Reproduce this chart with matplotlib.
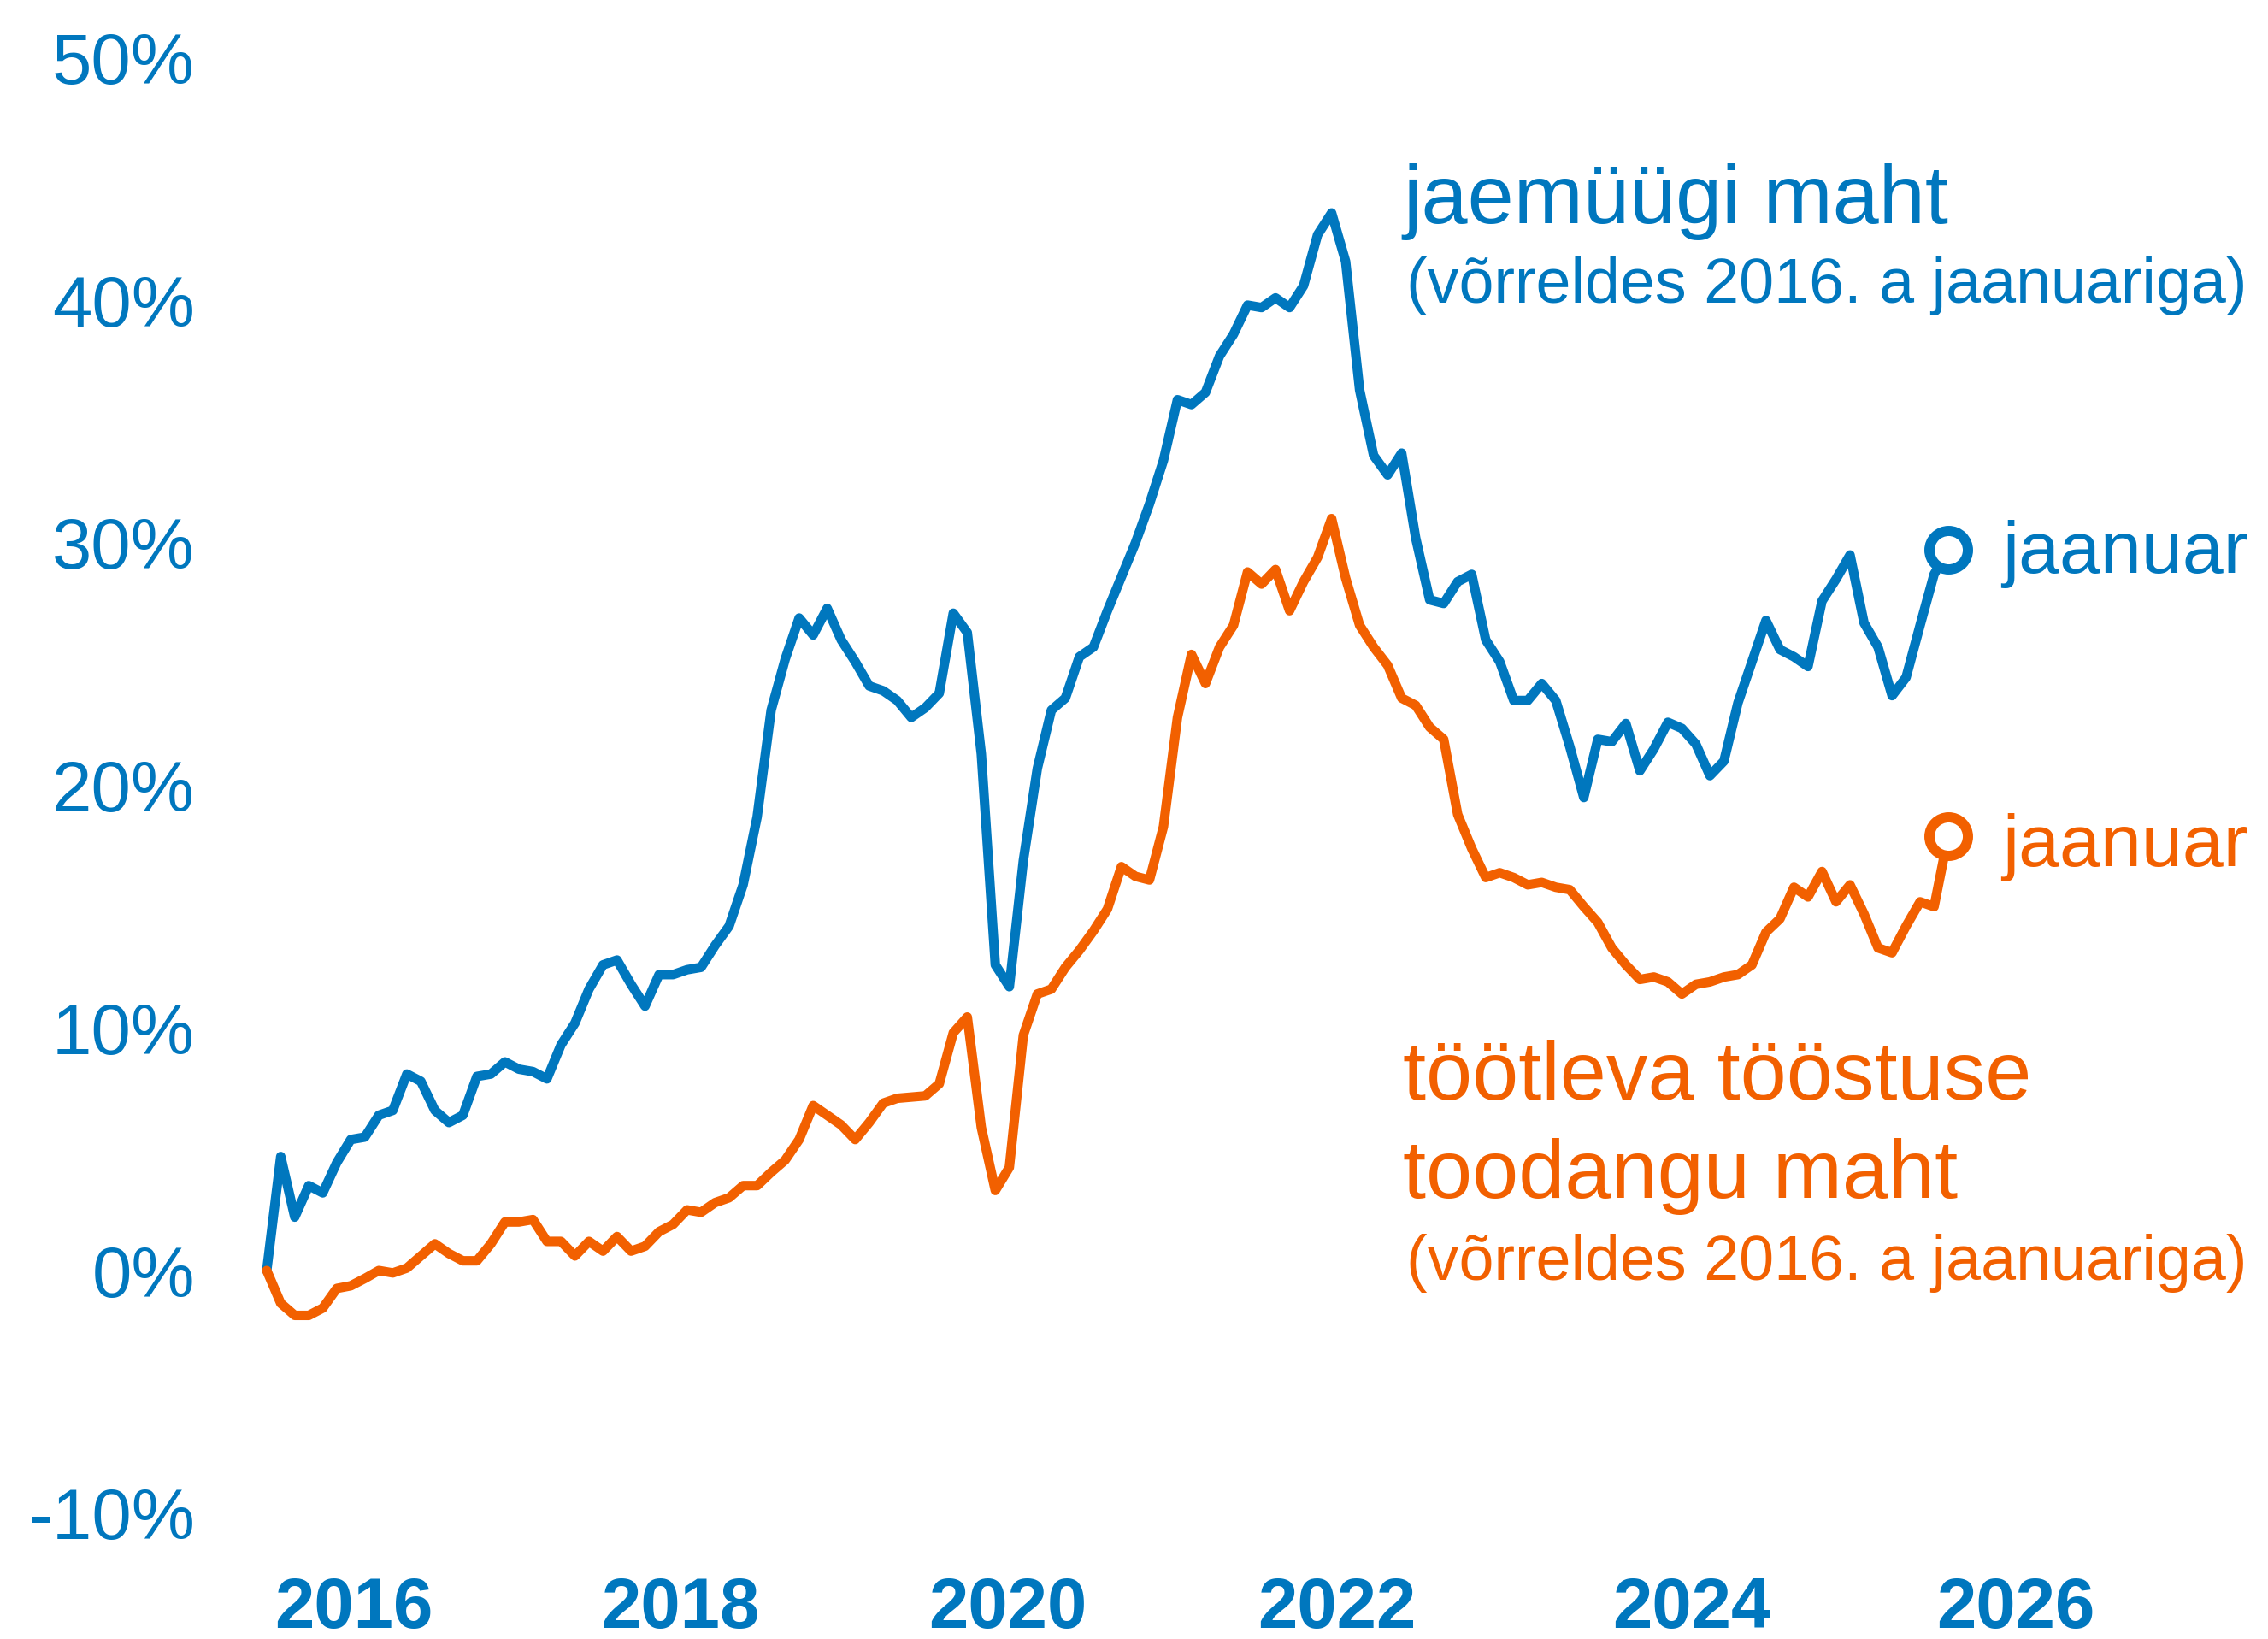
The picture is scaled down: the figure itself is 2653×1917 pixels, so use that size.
import matplotlib
matplotlib.use("Agg")
import matplotlib.pyplot as plt

plt.rcParams["font.family"] = ["Liberation Sans", "DejaVu Sans"]

BLUE = "#0077BE"
ORANGE = "#F26000"

# monthly index, Jan 2016 = 0 ... Jan 2026 = 120, % vs Jan 2016
retail = [
    0.0, 4.7, 2.2, 3.5, 3.2, 4.45, 5.4, 5.5, 6.4, 6.6, 8.1, 7.8,
    6.6, 6.1, 6.4, 8.0, 8.1, 8.6, 8.3, 8.2, 7.9, 9.3, 10.2, 11.6,
    12.6, 12.8, 11.8, 10.9, 12.2, 12.2, 12.4, 12.5, 13.4, 14.2, 15.9, 18.7,
    23.1, 25.2, 26.9, 26.2, 27.3, 26.0, 25.1, 24.1, 23.9, 23.5, 22.8, 23.2,
    23.8, 27.1, 26.3, 21.3, 12.6, 11.7, 16.9, 20.7, 23.1, 23.6, 25.3, 25.7,
    27.2, 28.6, 30.0, 31.6, 33.4, 35.9, 35.7, 36.2, 37.7, 38.6, 39.8, 39.7,
    40.1, 39.7, 40.6, 42.7, 43.6, 41.6, 36.3, 33.6, 32.8, 33.7, 30.2, 27.65,
    27.5, 28.4, 28.7, 26.0, 25.1, 23.5, 23.5, 24.2, 23.5, 21.6, 19.5, 21.9,
    21.8, 22.55, 20.6, 21.5, 22.6, 22.35, 21.7, 20.4, 21.0, 23.4, 25.1, 26.8,
    25.6, 25.3, 24.9, 27.6, 28.5, 29.5, 26.7, 25.7, 23.7, 24.45, 26.6, 28.7,
    29.7,
]
manufacturing = [
    0.0, -1.35, -1.85, -1.85, -1.55, -0.74, -0.63, -0.33, 0.0, -0.1, 0.1, 0.6,
    1.1, 0.7, 0.4, 0.4, 1.1, 2.0, 2.0, 2.1, 1.2, 1.2, 0.6, 1.2,
    0.8, 1.4, 0.8, 1.0, 1.6, 1.9, 2.5, 2.4, 2.8, 3.0, 3.5, 3.5,
    4.05, 4.55, 5.4, 6.8, 6.4, 6.0, 5.4, 6.1, 6.9, 7.1, 7.15, 7.2,
    7.7, 9.8, 10.45, 5.9, 3.3, 4.25, 9.7, 11.4, 11.6, 12.5, 13.2, 14.0,
    14.9, 16.65, 16.25, 16.1, 18.3, 22.8, 25.4, 24.2, 25.7, 26.6, 28.8, 28.3,
    28.9, 27.2, 28.4, 29.4, 31.0, 28.55, 26.6, 25.7, 24.95, 23.6, 23.3, 22.4,
    21.9, 18.8, 17.4, 16.2, 16.4, 16.2, 15.9, 16.0, 15.8, 15.7, 15.0, 14.35,
    13.3, 12.6, 12.0, 12.1, 11.9, 11.4, 11.8, 11.9, 12.1, 12.2, 12.6, 13.95,
    14.5, 15.8, 15.4, 16.45, 15.2, 15.9, 14.7, 13.3, 13.1, 14.2, 15.2, 15.0,
    17.9,
]
months = list(range(len(retail)))

year_labels = ["2016", "2018", "2020", "2022", "2024", "2026"]
year_pos = [6.2, 29.5, 52.9, 76.4, 101.7, 124.8]
y_ticks = [-10, 0, 10, 20, 30, 40, 50]

W, H = 2653, 1917
fig = plt.figure(figsize=(W / 100, H / 100), dpi=100)

# axes placed so that month 0 -> x=312px, 0% -> y=1486px
x0, dx = 312, 16.39
y0, dy = 1486, 28.37
xmin, xmax = -2, 130
left = (x0 + xmin * dx) / W
right = (x0 + xmax * dx) / W
bottom = 1 - (y0 + 10 * dy) / H
top = 1 - (y0 - 50 * dy) / H
ax = fig.add_axes([left, bottom, right - left, top - bottom])

ax.plot(months, retail, color=BLUE, lw=8, solid_joinstyle="round",
        solid_capstyle="round", zorder=3)
ax.plot(months, manufacturing, color=ORANGE, lw=8, solid_joinstyle="round",
        solid_capstyle="round", zorder=4)
ax.plot(months[-1], retail[-1], "o", ms=32.4, mfc="white", mec=BLUE, mew=8.6,
        zorder=5, clip_on=False)
ax.plot(months[-1], manufacturing[-1], "o", ms=32.4, mfc="white", mec=ORANGE,
        mew=8.6, zorder=5, clip_on=False)

ax.set_xlim(xmin, xmax)
ax.set_ylim(-10, 50)
for s in ax.spines.values():
    s.set_visible(False)

ax.set_yticks(y_ticks)
ax.set_yticklabels([f"{v}%" for v in y_ticks])
ax.tick_params(axis="y", length=0, pad=37, labelsize=60, labelcolor=BLUE)
ax.set_xticks(year_pos)
ax.set_xticklabels(year_labels, fontweight="bold")
ax.tick_params(axis="x", length=0, pad=53, labelsize=60, labelcolor=BLUE)


def ftext(px, py, s, **kw):
    fig.text(px / W, 1 - py / H, s, va="baseline", ha="left", **kw)


ftext(1641, 261, "jaemüügi maht", fontsize=70, color=BLUE)
ftext(1645, 354, "(võrreldes 2016. a jaanuariga)", fontsize=53, color=BLUE)
ftext(1641, 1286, "töötleva tööstuse", fontsize=70, color=ORANGE)
ftext(1641, 1401, "toodangu maht", fontsize=70, color=ORANGE)
ftext(1645, 1497, "(võrreldes 2016. a jaanuariga)", fontsize=53, color=ORANGE)
ftext(2342, 670, "jaanuar", fontsize=62, color=BLUE)
ftext(2342, 1013, "jaanuar", fontsize=62, color=ORANGE)

fig.savefig("out.png", dpi=100, facecolor="white")
